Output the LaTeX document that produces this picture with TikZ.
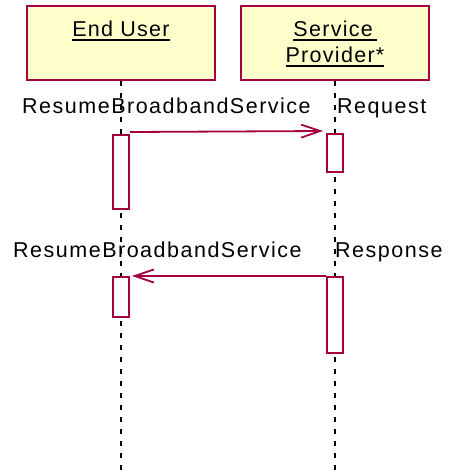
\documentclass[tikz,border=0pt]{standalone}
\usepackage{fontspec}
\setmainfont{Liberation Sans}
\newfontfamily\lblfont[LetterSpace=7]{Liberation Sans}
\newfontfamily\ttlfont[LetterSpace=6]{Liberation Sans}
\usetikzlibrary{arrows.meta}
\definecolor{umlred}{HTML}{A5003F}
\definecolor{umlyellow}{HTML}{FFFFCC}
\newcommand\myul[1]{\setbox0\hbox{#1}\rlap{\rule[-5pt]{\wd0}{2pt}}\box0}
\begin{document}
\begin{tikzpicture}[x=1pt,y=-1pt,
  actor/.style={draw=umlred, fill=umlyellow, line width=2pt, minimum width=188pt, minimum height=74pt, inner sep=0},
  ttl/.style={font=\ttlfont\fontsize{21.5}{26}\selectfont, inner sep=0, anchor=base},
  lifeline/.style={draw=black, line width=2pt, dash pattern=on 5pt off 7pt},
  act/.style={draw=umlred, fill=white, line width=2pt, minimum width=16pt, inner sep=0},
  msg/.style={draw=umlred, line width=1.8pt, -{Straight Barb[length=19pt,width=13pt,line width=1.8pt]}},
  lbl/.style={font=\lblfont\fontsize{21.5}{24}\selectfont, inner sep=0, anchor=base west}]
\useasboundingbox (0,0) rectangle (448,474);
\fill[white] (0,0) rectangle (448,474);
% actors
\node[actor] (eu) at (121,43) {};
\node[actor] (sp) at (335,43) {};
\node[ttl] (eut) at (121,36) {\myul{End User}};
\node[ttl] (spt1) at (335,36) {\myul{Service\,}};
\node[ttl] (spt2) at (335,62) {\myul{Provider*}};
% lifelines
\coordinate (eue) at (121,474);
\coordinate (spe) at (335,474);
\draw[lifeline] (eu.south) -- (eue);
\draw[lifeline] (sp.south) -- (spe);
% activations
\node[act, minimum height=74pt] (eua1) at (121,172) {};
\node[act, minimum height=38pt] (spa1) at (335,153) {};
\node[act, minimum height=40pt] (eua2) at (121,297) {};
\node[act, minimum height=76pt] (spa2) at (335,315) {};
% messages
\draw[msg] ([yshift=2pt]eua1.north east) -- ([yshift=2pt,xshift=-3pt]spa1.north west);
\draw[msg] (spa2.north west) -- ([xshift=2pt]eua2.north east);
% labels
\node[lbl] (l1a) at (22,113) {ResumeBroadbandService};
\node[lbl] (l1b) at (337,113) {Request};
\node[lbl] (l2a) at (13,257) {ResumeBroadbandService};
\node[lbl] (l2b) at (335,257) {Response};
\end{tikzpicture}
\end{document}
